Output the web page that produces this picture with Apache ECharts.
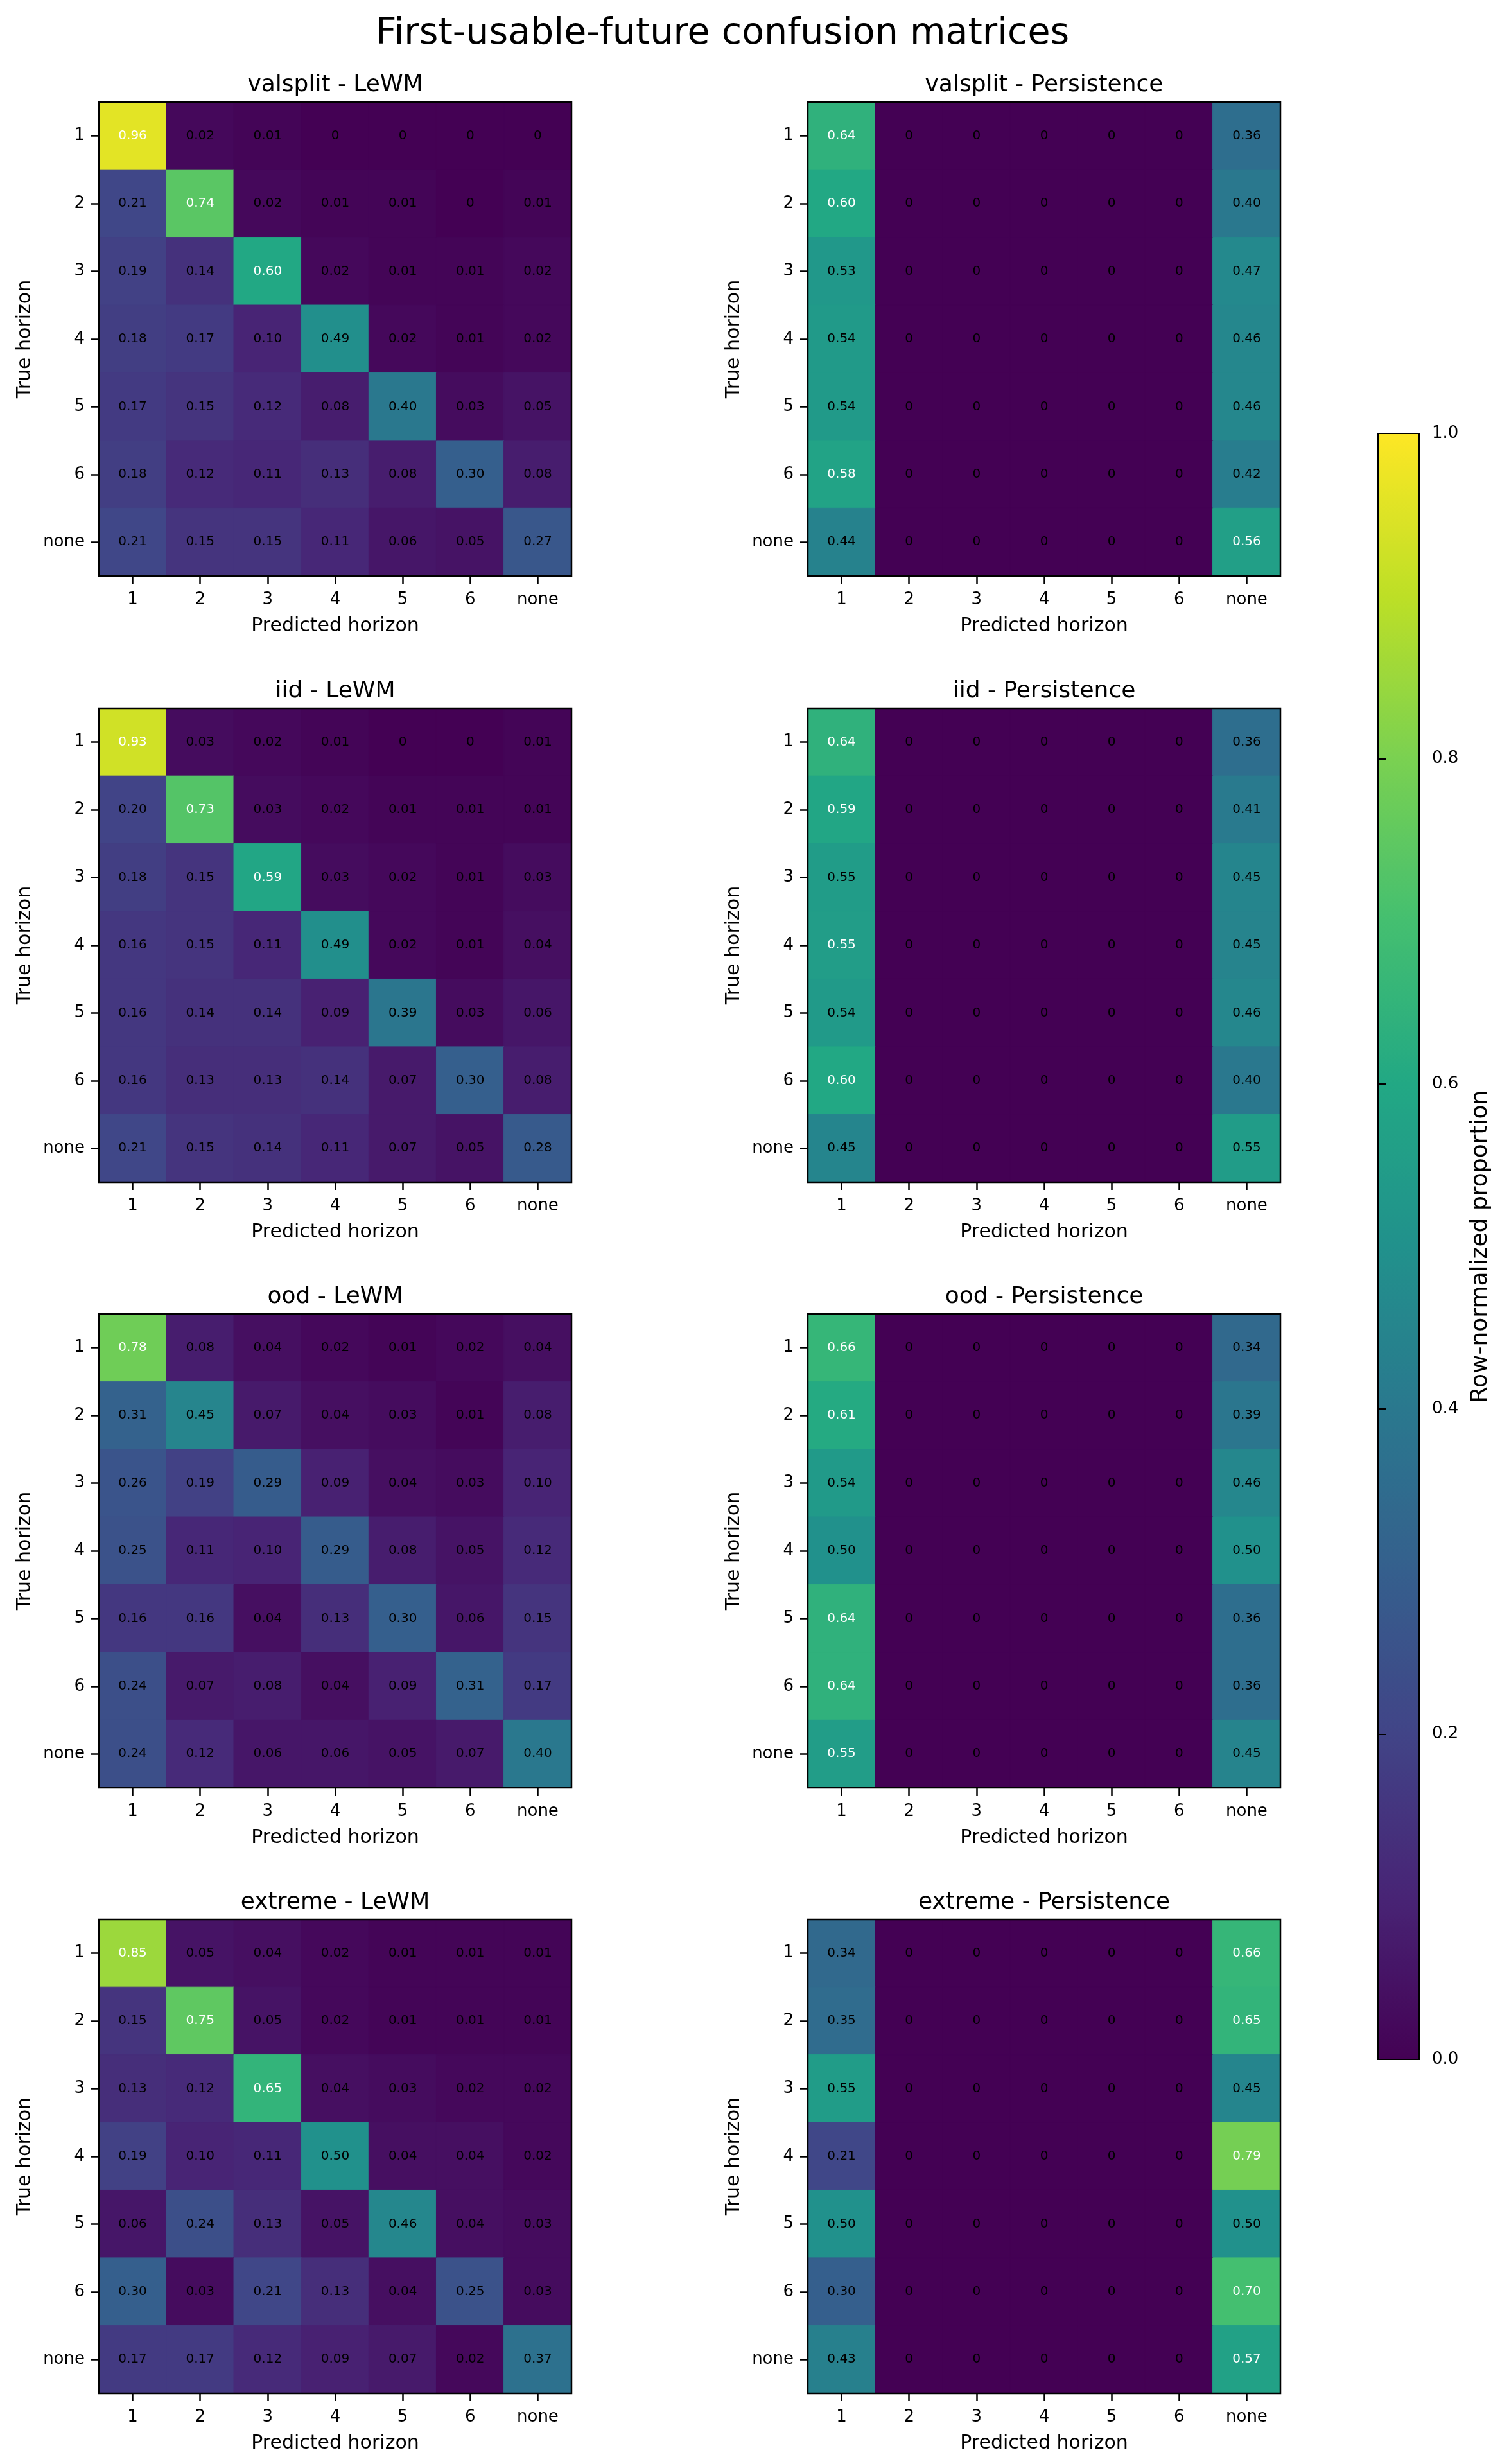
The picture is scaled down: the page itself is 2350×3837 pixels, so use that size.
<!DOCTYPE html>
<html>
<head>
<meta charset="utf-8">
<script src="https://cdn.jsdelivr.net/npm/echarts@6/dist/echarts.min.js"></script>
<style>
  html, body { margin: 0; padding: 0; background: #fff; }
  #chart { width: 2350px; height: 3837px; }
</style>
</head>
<body>
<div id="chart"></div>
<script>
// tick labels for both axes (true horizon rows, predicted horizon columns)
var horizons = ['1', '2', '3', '4', '5', '6', 'none'];
var colorbarTicks = [0, 0.2, 0.4, 0.6, 0.8, 1.0];

// rows = true horizon (1..6, none), cols = predicted horizon (1..6, none)
var valsplitLewm = [
  [0.96, 0.02, 0.01, 0, 0, 0, 0],
  [0.21, 0.74, 0.02, 0.01, 0.01, 0, 0.01],
  [0.19, 0.14, 0.60, 0.02, 0.01, 0.01, 0.02],
  [0.18, 0.17, 0.10, 0.49, 0.02, 0.01, 0.02],
  [0.17, 0.15, 0.12, 0.08, 0.40, 0.03, 0.05],
  [0.18, 0.12, 0.11, 0.13, 0.08, 0.30, 0.08],
  [0.21, 0.15, 0.15, 0.11, 0.06, 0.05, 0.27]
];
var valsplitPersistence = [
  [0.64, 0, 0, 0, 0, 0, 0.36],
  [0.60, 0, 0, 0, 0, 0, 0.40],
  [0.53, 0, 0, 0, 0, 0, 0.47],
  [0.54, 0, 0, 0, 0, 0, 0.46],
  [0.54, 0, 0, 0, 0, 0, 0.46],
  [0.58, 0, 0, 0, 0, 0, 0.42],
  [0.44, 0, 0, 0, 0, 0, 0.56]
];
var iidLewm = [
  [0.93, 0.03, 0.02, 0.01, 0, 0, 0.01],
  [0.20, 0.73, 0.03, 0.02, 0.01, 0.01, 0.01],
  [0.18, 0.15, 0.59, 0.03, 0.02, 0.01, 0.03],
  [0.16, 0.15, 0.11, 0.49, 0.02, 0.01, 0.04],
  [0.16, 0.14, 0.14, 0.09, 0.39, 0.03, 0.06],
  [0.16, 0.13, 0.13, 0.14, 0.07, 0.30, 0.08],
  [0.21, 0.15, 0.14, 0.11, 0.07, 0.05, 0.28]
];
var iidPersistence = [
  [0.64, 0, 0, 0, 0, 0, 0.36],
  [0.59, 0, 0, 0, 0, 0, 0.41],
  [0.548, 0, 0, 0, 0, 0, 0.452],
  [0.552, 0, 0, 0, 0, 0, 0.448],
  [0.54, 0, 0, 0, 0, 0, 0.46],
  [0.60, 0, 0, 0, 0, 0, 0.40],
  [0.452, 0, 0, 0, 0, 0, 0.548]
];
var oodLewm = [
  [0.78, 0.08, 0.04, 0.02, 0.01, 0.02, 0.04],
  [0.31, 0.45, 0.07, 0.04, 0.03, 0.01, 0.08],
  [0.26, 0.19, 0.29, 0.09, 0.04, 0.03, 0.10],
  [0.25, 0.11, 0.10, 0.29, 0.08, 0.05, 0.12],
  [0.16, 0.16, 0.04, 0.13, 0.30, 0.06, 0.15],
  [0.24, 0.07, 0.08, 0.04, 0.09, 0.31, 0.17],
  [0.24, 0.12, 0.06, 0.06, 0.05, 0.07, 0.40]
];
var oodPersistence = [
  [0.66, 0, 0, 0, 0, 0, 0.34],
  [0.61, 0, 0, 0, 0, 0, 0.39],
  [0.54, 0, 0, 0, 0, 0, 0.46],
  [0.50, 0, 0, 0, 0, 0, 0.50],
  [0.64, 0, 0, 0, 0, 0, 0.36],
  [0.64, 0, 0, 0, 0, 0, 0.36],
  [0.552, 0, 0, 0, 0, 0, 0.448]
];
var extremeLewm = [
  [0.85, 0.05, 0.04, 0.02, 0.01, 0.01, 0.01],
  [0.15, 0.75, 0.05, 0.02, 0.01, 0.01, 0.01],
  [0.13, 0.12, 0.65, 0.04, 0.03, 0.02, 0.02],
  [0.19, 0.10, 0.11, 0.50, 0.04, 0.04, 0.02],
  [0.06, 0.24, 0.13, 0.05, 0.46, 0.04, 0.03],
  [0.30, 0.03, 0.21, 0.13, 0.04, 0.25, 0.03],
  [0.17, 0.17, 0.12, 0.09, 0.07, 0.02, 0.37]
];
var extremePersistence = [
  [0.34, 0, 0, 0, 0, 0, 0.66],
  [0.35, 0, 0, 0, 0, 0, 0.65],
  [0.548, 0, 0, 0, 0, 0, 0.452],
  [0.21, 0, 0, 0, 0, 0, 0.79],
  [0.50, 0, 0, 0, 0, 0, 0.50],
  [0.30, 0, 0, 0, 0, 0, 0.70],
  [0.43, 0, 0, 0, 0, 0, 0.57]
];

var panels = [
  { title: 'valsplit - LeWM', data: valsplitLewm },
  { title: 'valsplit - Persistence', data: valsplitPersistence },
  { title: 'iid - LeWM', data: iidLewm },
  { title: 'iid - Persistence', data: iidPersistence },
  { title: 'ood - LeWM', data: oodLewm },
  { title: 'ood - Persistence', data: oodPersistence },
  { title: 'extreme - LeWM', data: extremeLewm },
  { title: 'extreme - Persistence', data: extremePersistence }
];

var viridis = ['#440154', '#482475', '#414487', '#355f8d', '#2a788e', '#21918c',
               '#22a884', '#44bf70', '#7ad151', '#bddf26', '#fde725'];

// layout
var colLefts = [154, 1258];
var rowTops = [159, 1103, 2046, 2989];
var cellW = 736, cellH = 738;
var cbar = { left: 2146, top: 675, width: 64, height: 2532 };
var font = 'DejaVu Sans';

function fmt(v) {
  return v === 0 ? '0' : v.toFixed(2);
}

var grids = [], xAxes = [], yAxes = [], series = [], graphics = [];

graphics.push({
  type: 'text', x: 1125, y: 53,
  style: { text: 'First-usable-future confusion matrices', font: '57px "' + font + '"',
           fill: '#000', textAlign: 'center', textVerticalAlign: 'middle' }
});

panels.forEach(function (p, k) {
  var left = colLefts[k % 2], top = rowTops[Math.floor(k / 2)];
  grids.push({ left: left, top: top, width: cellW, height: cellH, show: true,
               borderColor: '#000', borderWidth: 2.5, backgroundColor: 'rgba(0,0,0,0)', z: 5 });
  var tick = { show: true, alignWithLabel: true, interval: 0, length: 12,
               lineStyle: { color: '#000', width: 2.5 } };
  xAxes.push({
    gridIndex: k, type: 'category', data: horizons,
    axisLine: { show: false }, axisTick: tick, splitLine: { show: false },
    axisLabel: { interval: 0, fontSize: 26, color: '#000', margin: 24, fontFamily: font },
    name: 'Predicted horizon', nameLocation: 'middle', nameGap: 63,
    nameTextStyle: { fontSize: 30, color: '#000', fontFamily: font }
  });
  yAxes.push({
    gridIndex: k, type: 'category', data: horizons, inverse: true,
    axisLine: { show: false }, axisTick: tick, splitLine: { show: false },
    axisLabel: { interval: 0, fontSize: 26, color: '#000', margin: 22, fontFamily: font },
    name: 'True horizon', nameLocation: 'middle', nameGap: 100, nameRotate: 90,
    nameTextStyle: { fontSize: 30, color: '#000', fontFamily: font }
  });
  var items = [];
  p.data.forEach(function (row, i) {
    row.forEach(function (v, j) {
      var c = echarts.color.lerp(v, viridis);
      items.push({
        value: [j, i, v],
        itemStyle: { color: c, borderColor: c, borderWidth: 1 },
        label: { color: v > 0.55 ? '#fff' : '#000' }
      });
    });
  });
  series.push({
    type: 'heatmap', xAxisIndex: k, yAxisIndex: k, data: items,
    label: { show: true, fontSize: 20, fontFamily: font,
             formatter: function (d) { return fmt(d.value[2]); } },
    emphasis: { disabled: true }
  });
  graphics.push({
    type: 'text', x: left + cellW / 2, y: top - 26,
    style: { text: p.title, font: '36px "' + font + '"', fill: '#000',
             textAlign: 'center', textVerticalAlign: 'middle' }
  });
});

// colorbar frame + ticks
grids.push({ left: cbar.left, top: cbar.top, width: cbar.width, height: cbar.height, show: true,
             borderColor: '#000', borderWidth: 2, backgroundColor: 'rgba(0,0,0,0)', z: 10 });
xAxes.push({ gridIndex: 8, type: 'value', min: 0, max: 1, show: false });
yAxes.push({
  gridIndex: 8, type: 'value', min: colorbarTicks[0], max: colorbarTicks[colorbarTicks.length - 1],
  interval: 0.2, position: 'right', z: 10,
  axisLine: { show: false }, splitLine: { show: false },
  axisTick: { show: true, length: 12, lineStyle: { color: '#000', width: 2 } },
  axisLabel: { fontSize: 26, color: '#000', margin: 20, fontFamily: font,
               formatter: function (v) { return v.toFixed(1); } },
  name: 'Row-normalized proportion', nameLocation: 'middle', nameGap: 78, nameRotate: 90,
  nameTextStyle: { fontSize: 36, color: '#000', fontFamily: font }
});
series.push({ type: 'scatter', xAxisIndex: 8, yAxisIndex: 8, data: [] });

var chart = echarts.init(document.getElementById('chart'));
chart.setOption({
  animation: false,
  backgroundColor: '#fff',
  textStyle: { fontFamily: font },
  grid: grids,
  xAxis: xAxes,
  yAxis: yAxes,
  visualMap: {
    type: 'continuous', min: 0, max: 1, dimension: 1,
    seriesIndex: [8],
    calculable: false, hoverLink: false, show: true,
    left: cbar.left, top: cbar.top, itemWidth: cbar.width, itemHeight: cbar.height,
    padding: 0, text: null, showLabel: false,
    inRange: { color: viridis }
  },
  graphic: graphics,
  series: series
});
</script>
</body>
</html>
